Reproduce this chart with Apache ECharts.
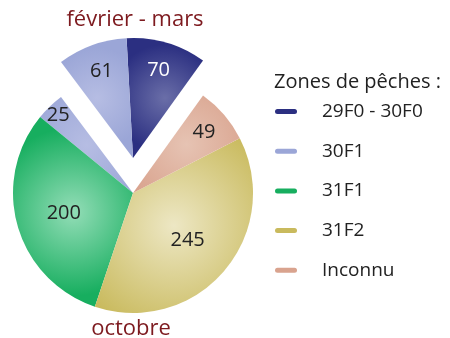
<!DOCTYPE html>
<html>
<head>
<meta charset="utf-8">
<script src="https://cdn.jsdelivr.net/npm/echarts@6/dist/echarts.min.js"></script>
<style>
  html, body { margin: 0; padding: 0; background: #ffffff; }
  #chart { width: 450px; height: 338px; }
</style>
</head>
<body>
<div id="chart"></div>
<script>
// Catches by fishing zone, split by season
const zones = ['29F0 - 30F0', '30F1', '31F1', '31F2', 'Inconnu'];
const febMarNames = ['29F0 - 30F0', '30F1'];
const febMarValues = [70, 61];
const octNames = ['30F1', '31F1', '31F2', 'Inconnu'];
const octValues = [25, 200, 245, 49];
const seasonLabels = ['février - mars', 'octobre'];
const legendTitle = 'Zones de pêches :';

// Styling
const FONT = '"Open Sans", sans-serif';
const baseColor = {
  '29F0 - 30F0': '#2b2f81',
  '30F1': '#9ba6d7',
  '31F1': '#17ae5f',
  '31F2': '#c9ba5d',
  'Inconnu': '#d9a38e'
};
const lightColor = {
  '29F0 - 30F0': '#6a6ea8',
  '30F1': '#b6bde3',
  '31F1': '#93ddb7',
  '31F2': '#ede7c4',
  'Inconnu': '#e6c3b3'
};
const labelColor = { '29F0 - 30F0': '#ffffff' };
const RADIUS = 120;
const CX = 133;
const CY_OCT = 193;
const CY_FEB = 158;
const START = 54.3;
// radial position of each value label, as a fraction of the radius
const labelRadiusFeb = [0.76, 0.77];
const labelRadiusOct = [0.9, 0.6, 0.6, 0.78];

const sum = arr => arr.reduce((a, b) => a + b, 0);
const febTotal = sum(febMarValues);
const octTotal = sum(octValues);
const total = febTotal + octTotal;

function shade(name) {
  return new echarts.graphic.RadialGradient(0.5, 0.5, 0.7, [
    { offset: 0, color: lightColor[name] },
    { offset: 1, color: baseColor[name] }
  ]);
}

function item(name, value) {
  return {
    name: name,
    value: value,
    itemStyle: { color: shade(name) },
    label: { color: labelColor[name] || '#222222' }
  };
}

function gap(value) {
  return { name: '', value: value, itemStyle: { color: 'rgba(0,0,0,0)' }, label: { show: false } };
}

// Slices run counter-clockwise: February-March group first, then October
const febData = febMarNames.map((n, i) => item(n, febMarValues[i])).concat([gap(octTotal)]);
const octData = [gap(febTotal)].concat(octNames.map((n, i) => item(n, octValues[i])));

function midAngles(values) {
  const out = [];
  let acc = START;
  values.forEach(v => {
    const span = v / total * 360;
    out.push(acc + span / 2);
    acc += span;
  });
  return out;
}
const febMid = midAngles(febMarValues);
const octMid = midAngles([febTotal].concat(octValues)).slice(1);

function placeLabel(cy, mids, fracs, offset) {
  return function (params) {
    const i = params.dataIndex - offset;
    if (i < 0 || i >= mids.length) return {};
    const a = mids[i] * Math.PI / 180;
    const r = RADIUS * fracs[i];
    return { x: CX + r * Math.cos(a), y: cy - r * Math.sin(a), align: 'center', verticalAlign: 'middle' };
  };
}

const pieCommon = {
  type: 'pie',
  radius: [0, RADIUS],
  startAngle: START,
  clockwise: false,
  avoidLabelOverlap: false,
  animation: false,
  silent: true,
  label: {
    show: true,
    position: 'inside',
    formatter: '{c}',
    fontFamily: FONT,
    fontSize: 20,
    color: '#222222'
  },
  labelLine: { show: false },
  itemStyle: { borderWidth: 0 },
  emphasis: { disabled: true }
};

const capsule = 'path://M2.5,0 H19.5 A2.5,2.5 0 0 1 19.5,5 H2.5 A2.5,2.5 0 0 1 2.5,0 Z';
const seasonStyle = { fontFamily: FONT, fontSize: 22, fontWeight: 'normal', color: '#7d1a1f' };

const chart = echarts.init(document.getElementById('chart'), null, { renderer: 'canvas' });
chart.setOption({
  backgroundColor: '#ffffff',
  animation: false,
  title: [
    { text: seasonLabels[0], left: 130, top: 4, textAlign: 'center', textStyle: seasonStyle },
    { text: seasonLabels[1], left: 126, top: 313, textAlign: 'center', textStyle: seasonStyle },
    {
      text: legendTitle, left: 269, top: 67,
      textStyle: { fontFamily: FONT, fontSize: 20, fontWeight: 'normal', color: '#222222' }
    }
  ],
  legend: {
    orient: 'vertical',
    left: 270,
    top: 96.5,
    icon: capsule,
    itemWidth: 22,
    itemHeight: 5,
    itemGap: 19.7,
    selectedMode: false,
    data: zones.map(z => ({ name: z, itemStyle: { color: baseColor[z] } })),
    textStyle: { fontFamily: FONT, fontSize: 19, color: '#222222', lineHeight: 20, padding: [0, 0, 0, 20] }
  },
  series: [
    Object.assign({}, pieCommon, {
      name: seasonLabels[1],
      center: [CX, CY_OCT],
      data: octData,
      labelLayout: placeLabel(CY_OCT, octMid, labelRadiusOct, 1)
    }),
    Object.assign({}, pieCommon, {
      name: seasonLabels[0],
      center: [CX, CY_FEB],
      data: febData,
      labelLayout: placeLabel(CY_FEB, febMid, labelRadiusFeb, 0)
    })
  ]
});
</script>
</body>
</html>
